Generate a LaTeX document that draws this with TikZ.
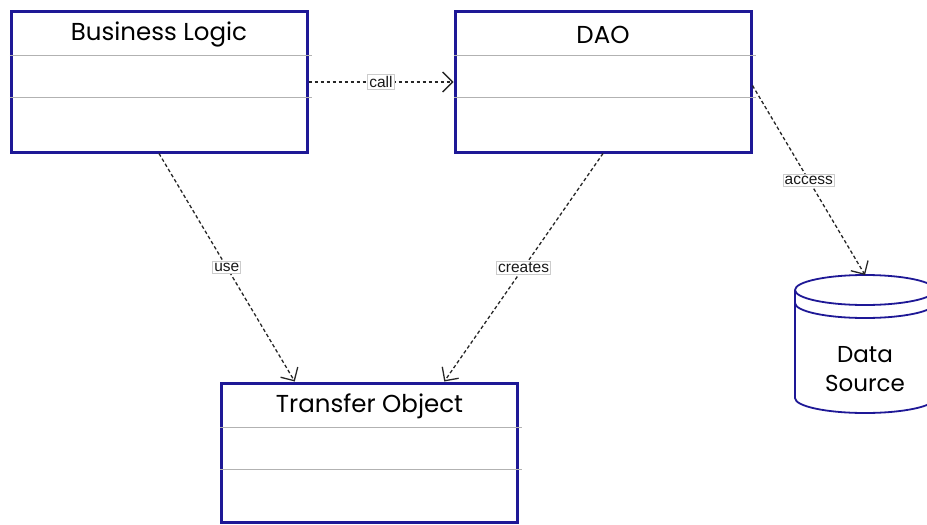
\documentclass[tikz,border=0pt]{standalone}
\usepackage{fontspec}
\setmainfont{Poppins}
\newfontfamily\lblfont{Liberation Sans}
\usetikzlibrary{arrows.meta,positioning,calc}
\definecolor{navy}{RGB}{30,24,150}

\begin{document}
\begin{tikzpicture}[x=1pt, y=-1pt,
  cls/.style={rectangle, draw=navy, line width=3pt, fill=white, minimum width=296pt, minimum height=141pt, inner sep=0pt},
  ttl/.style={font=\fontsize{24.5}{28}\selectfont, text=black},
  sep/.style={draw=gray!60, line width=1.5pt},
  dep/.style={dash pattern=on 3.5pt off 2.5pt, line width=1.3pt, black!85, -{Straight Barb[length=10pt, width=20pt, line width=1.3pt]}},
  lbl/.style={rectangle, solid, draw=gray!40, line width=0.8pt, fill=white, inner sep=1.5pt, font=\lblfont\fontsize{15.5}{18}\selectfont, text=black!90}]
  \useasboundingbox (0,0) rectangle (927,525);
  % class boxes
  \node[cls] (bl) at (159,81.5) {};
  \node[cls, right=145pt of bl] (dao) {};
  \node[cls, minimum height=139pt] (to) at (369.5,452.5) {};
  \node[ttl] (blt) at ([yshift=-25pt]bl.north) {Business Logic};
  \node[ttl] (daot) at ([yshift=-25pt]dao.north) {DAO};
  \node[ttl] (tot) at ([yshift=-25pt]to.north) {Transfer Object};
  \foreach \c in {bl, dao, to} {
    \draw[sep] ([yshift=-46pt]\c.north west) -- ([yshift=-46pt, xshift=3pt]\c.north east);
    \draw[sep] ([yshift=-88pt]\c.north west) -- ([yshift=-88pt, xshift=3pt]\c.north east);
  }
  % data source
  \draw[navy, line width=1.8pt, fill=white] (795,290) -- (795,398) arc[start angle=180, end angle=360, x radius=70pt, y radius=15pt] -- (935,290) arc[start angle=0, end angle=180, x radius=70pt, y radius=15pt];
  \draw[navy, line width=1.8pt] (795,290) arc[start angle=180, end angle=360, x radius=70pt, y radius=15pt];
  \draw[navy, line width=1.8pt] (795,303) arc[start angle=180, end angle=360, x radius=70pt, y radius=15pt];
  \coordinate (dstop) at (865,275);
  \node[ttl, align=center, font=\fontsize{23}{29}\selectfont] (ds) at (865,369) {Data\\Source};
  % dependencies
  \draw[dep] ([yshift=-0.5pt]bl.east) -- node[lbl] (call) {call} ([yshift=-0.5pt]dao.west);
  \draw[dep] ([yshift=-4pt]dao.east) -- node[lbl] (acc) {access} (dstop);
  \draw[dep] (bl.south) -- node[lbl] (use) {use} ($(to.north west)!0.25!(to.north east)$);
  \draw[dep] (dao.south) -- node[lbl] (cre) {creates} ($(to.north west)!0.75!(to.north east)$);
\end{tikzpicture}
\end{document}
